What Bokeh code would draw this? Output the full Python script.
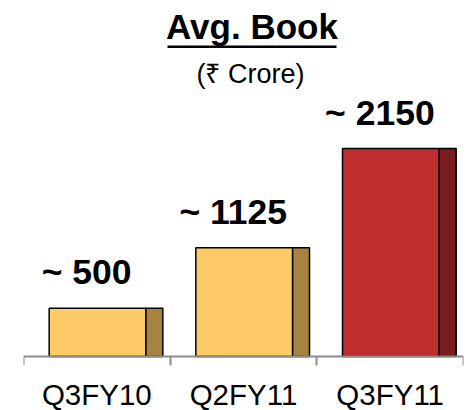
from bokeh.plotting import figure
from bokeh.models import (Range1d, LinearAxis, FixedTicker, ColumnDataSource,
                          LabelSet, Label, BoxAnnotation)
from bokeh.core.properties import value
from bokeh.embed import file_html
from bokeh.resources import INLINE

categories = ["Q3FY10", "Q2FY11", "Q3FY11"]
values = [500, 1125, 2150]
value_labels = ["~ 500", "~ 1125", "~ 2150"]
front_colors = ["#FECB66", "#FECB66", "#BE2E2F"]
side_colors = ["#A6843F", "#A6843F", "#7A1D1E"]
title_text = "Avg. Book"
subtitle_text = "(\u20b9 Crore)"

FONT = "Liberation Sans"

idx = list(range(len(categories)))
front_x = [i + 0.505 for i in idx]
side_x = [i + 0.8925 for i in idx]

src = ColumnDataSource(dict(fx=front_x, sx=side_x, v=values, lab=value_labels,
                            fc=front_colors, sc=side_colors))

p = figure(width=468, height=410, output_backend="svg", toolbar_location=None,
           x_range=Range1d(0, 3.0), y_range=Range1d(-558, 3681),
           min_border_left=23, min_border_right=5, min_border_top=0,
           min_border_bottom=0, x_axis_type=None, y_axis_type=None)
p.grid.visible = False
p.outline_line_color = None
p.background_fill_color = "white"
p.border_fill_color = "white"

p.vbar(x="fx", top="v", bottom=0, width=0.66, source=src, fill_color="fc",
       line_color="black", line_width=1.5)
p.vbar(x="sx", top="v", bottom=0, width=0.115, source=src, fill_color="sc",
       line_color="black", line_width=1.5)

p.add_layout(LabelSet(x="fx", y="v", text="lab", source=src, x_offset=-11, y_offset=24,
                      text_align="center", text_baseline="alphabetic",
                      text_font=value(FONT), text_font_style="bold",
                      text_font_size="35.5px", text_color="black"))

ax = LinearAxis(ticker=FixedTicker(ticks=[i + 0.5 for i in idx],
                                   minor_ticks=[0, 1, 2, 3]))
ax.fixed_location = 0
ax.major_label_overrides = {i + 0.5: c for i, c in zip(idx, categories)}
ax.major_tick_out = 0
ax.major_tick_in = 0
ax.minor_tick_out = 9
ax.minor_tick_in = 0
ax.minor_tick_line_color = "#8C8C8C"
ax.minor_tick_line_width = 2
ax.axis_line_color = "#8C8C8C"
ax.axis_line_width = 2
ax.major_label_text_font = FONT
ax.major_label_text_font_size = "29.5px"
ax.major_label_text_color = "black"
ax.major_label_standoff = 12
p.add_layout(ax, "below")

p.add_layout(Label(x=1.558, y=3412, text=title_text, text_align="center",
                   text_baseline="alphabetic", text_font=FONT, text_font_style="bold",
                   text_font_size="35px", text_color="black"))
p.add_layout(BoxAnnotation(left=0.982, right=2.134, top=3216, bottom=3190,
                           fill_color="black", fill_alpha=1, line_color=None))
p.add_layout(Label(x=1.547, y=2926, text=subtitle_text, text_align="center",
                   text_baseline="alphabetic", text_font=FONT,
                   text_font_size="27px", text_color="black"))

open("out.html", "w").write(file_html(p, INLINE))
